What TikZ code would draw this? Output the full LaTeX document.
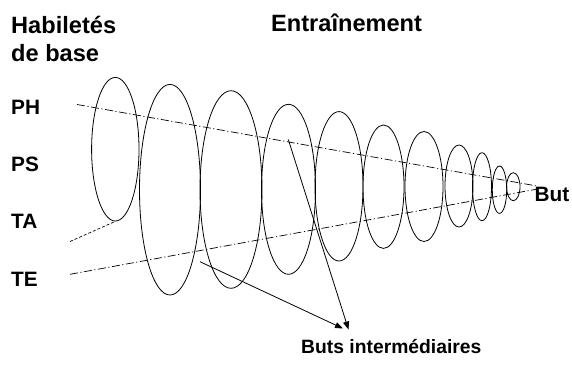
\documentclass[tikz,border=0pt]{standalone}
\usepackage{fontspec}
\setmainfont{Liberation Sans}
\usetikzlibrary{shapes.geometric,arrows.meta}
\begin{document}
\begin{tikzpicture}[x=1pt,y=-1pt,
  ring/.style={draw, ellipse, line width=0.8pt, inner sep=0pt},
  axisline/.style={line width=0.7pt, dash pattern=on 8pt off 2.5pt on 1.2pt off 2.5pt},
  taline/.style={line width=0.7pt, dash pattern=on 3pt off 2pt},
  pointer/.style={line width=0.8pt, -{Triangle[length=8pt,width=6pt]}},
  head/.style={inner sep=0pt, anchor=base west, font=\fontsize{23.6}{27}\selectfont\bfseries},
  lab/.style={inner sep=0pt, anchor=base west, font=\fontsize{20.8}{24}\selectfont\bfseries},
  small/.style={inner sep=0pt, anchor=base west, font=\fontsize{19.3}{22}\selectfont\bfseries}]
\useasboundingbox (0,0) rectangle (572,365);
% ellipses
\node[ring, minimum width=47.4pt, minimum height=143.6pt] (e1) at (115.3,149.2) {};
\node[ring, minimum width=61pt, minimum height=210.6pt] (e2) at (170,189.7) {};
\node[ring, minimum width=62pt, minimum height=197.6pt] (e3) at (231,189.5) {};
\node[ring, minimum width=54pt, minimum height=170pt] (e4) at (288.5,189.3) {};
\node[ring, minimum width=48pt, minimum height=149.4pt] (e5) at (339,186.3) {};
\node[ring, minimum width=41pt, minimum height=123.4pt] (e6) at (383.5,186.7) {};
\node[ring, minimum width=38pt, minimum height=110pt] (e7) at (424,186.5) {};
\node[ring, minimum width=28pt, minimum height=82pt] (e8) at (459,186) {};
\node[ring, minimum width=19pt, minimum height=68pt] (e9) at (482,186.7) {};
\node[ring, minimum width=14.4pt, minimum height=47.4pt] (e10) at (499.5,189.7) {};
\node[ring, minimum width=13.4pt, minimum height=28pt] (e11) at (513.3,186.7) {};
% texts
\node[head] (hab) at (11,33.3) {Habiletés};
\node[head] (deb) at (11,61.7) {de base};
\node[head] (ent) at (271,31.7) {Entraînement};
\node[lab] (ph) at (11,114) {PH};
\node[lab] (ps) at (11,171.7) {PS};
\node[lab] (ta) at (11,228.3) {TA};
\node[lab] (te) at (11,286) {TE};
\node[lab] (but) at (534.5,201) {But};
\node[small] (bi) at (301,353.3) {Buts intermédiaires};
% connector points
\coordinate (uA) at (77,104.5);
\coordinate (lA) at (70,274.3);
\coordinate (goal) at (537,186);
\coordinate (goal2) at (536,189.3);
\coordinate (taA) at (70,241.5);
\coordinate (p1) at (200,261.7);
\coordinate (p2) at (288.3,139.5);
\coordinate (t1) at (343,328.5);
\coordinate (t2) at (348.5,329.5);
% lines
\draw[axisline] (uA) -- (goal);
\draw[axisline] (lA) -- (goal2);
\draw[taline] (taA) -- (e1.south);
\draw[pointer] (p1) -- (t1);
\draw[pointer] (p2) -- (t2);
\end{tikzpicture}
\end{document}
